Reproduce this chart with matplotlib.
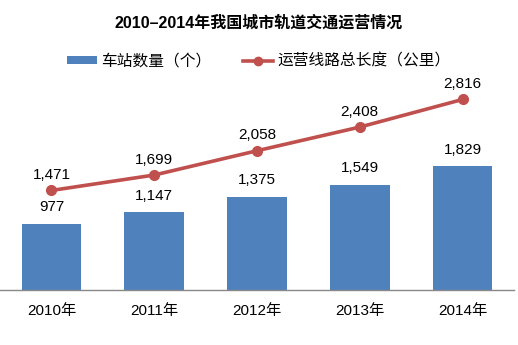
import matplotlib
matplotlib.use("Agg")
from matplotlib import pyplot as plt
from matplotlib.lines import Line2D
from matplotlib.patches import Patch

plt.rcParams['font.family'] = ['Liberation Sans', 'Noto Sans CJK SC', 'DejaVu Sans']

years = ["2010年", "2011年", "2012年", "2013年", "2014年"]
stations = [977, 1147, 1375, 1549, 1829]
line_length = [1471, 1699, 2058, 2408, 2816]

bar_color = "#4F81BD"
line_color = "#C0504D"

fig = plt.figure(figsize=(5.18, 3.45), dpi=100)
ax = fig.add_axes([0.0, 55 / 345, 514 / 518, 203 / 345])

x = range(len(years))
ax.bar(x, stations, width=0.58, color=bar_color, zorder=2)
ax.plot(x, line_length, color=line_color, lw=2.6, marker="o", ms=7, zorder=3)

for xi, v in zip(x, stations):
    ax.annotate(f"{v:,}", (xi, v), xytext=(0, 7), textcoords="offset points",
                ha="center", va="bottom", fontsize=11)
for xi, v in zip(x, line_length):
    ax.annotate(f"{v:,}", (xi, v), xytext=(0, 6), textcoords="offset points",
                ha="center", va="bottom", fontsize=11)

ax.set_xlim(-0.5, len(years) - 0.5)
ax.set_ylim(0, 3000)
ax.set_xticks(list(x))
ax.set_xticklabels(years, fontsize=11)
ax.tick_params(axis="x", length=0, pad=10)
ax.set_yticks([])
for side in ["left", "right", "top"]:
    ax.spines[side].set_visible(False)
ax.spines["bottom"].set_color("#888888")
ax.spines["bottom"].set_linewidth(1)

fig.text(0.5, 1 - 23 / 345, "2010–2014年我国城市轨道交通运营情况", ha="center", va="center",
         fontsize=11.5, fontweight="bold")

handles = [
    Patch(facecolor=bar_color, edgecolor="none"),
    Line2D([0], [0], color=line_color, lw=2.6, marker="o", ms=6),
]
fig.legend(handles, ["车站数量（个）", "运营线路总长度（公里）"], loc="center",
           bbox_to_anchor=(0.5, 1 - 61 / 345), ncol=2, frameon=False, fontsize=11.3,
           handlelength=1.9, handleheight=0.45, columnspacing=2.0, handletextpad=0.3)

fig.savefig("out.png", dpi=100)
